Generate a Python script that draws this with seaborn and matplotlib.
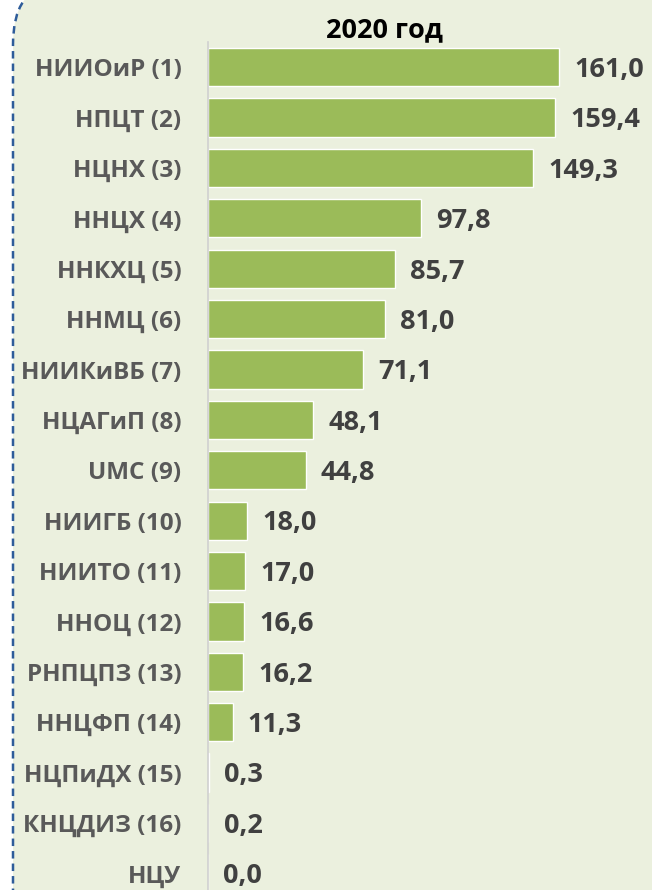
import pandas as pd
import matplotlib.pyplot as plt
import seaborn as sns
from matplotlib.patches import FancyBboxPatch

# data
centers = ["НИИОиР (1)", "НПЦТ (2)", "НЦНХ (3)", "ННЦХ (4)", "ННКХЦ (5)",
           "ННМЦ (6)", "НИИКиВБ (7)", "НЦАГиП (8)", "UMC (9)", "НИИГБ (10)",
           "НИИТО (11)", "ННОЦ (12)", "РНПЦПЗ (13)", "ННЦФП (14)",
           "НЦПиДХ (15)", "КНЦДИЗ (16)", "НЦУ"]
values = [161.0, 159.4, 149.3, 97.8, 85.7, 81.0, 71.1, 48.1, 44.8, 18.0,
          17.0, 16.6, 16.2, 11.3, 0.3, 0.2, 0.0]
title = "2020 год"

BG = "#EBF0DE"
BAR = "#9BBB59"

df = pd.DataFrame({"center": centers, "value": values})

sns.set_style("white")
plt.rcParams['font.family'] = ['Open Sans', 'DejaVu Sans']

fig = plt.figure(figsize=(6.52, 8.9), dpi=100)
fig.patch.set_facecolor("white")

# rounded dashed frame (behind the axes)
frame = FancyBboxPatch((13 / 652, -0.2), 1.2, 1.215, transform=fig.transFigure,
                       boxstyle="round,pad=0,rounding_size=0.065",
                       facecolor=BG, edgecolor="#2E5C9A", linestyle=(0, (3, 2)),
                       linewidth=1.8, zorder=-5)
fig.patches.append(frame)

ax = fig.add_axes([208 / 652, 0, 436 / 652, 848 / 890])
ax.set_zorder(2)
ax.set_facecolor("none")
sns.barplot(data=df, x="value", y="center", color=BAR, saturation=1,
            width=0.76, ax=ax)

ax.set_xlim(0, 200)
ax.set_ylim(16.33, -0.5)
ax.set_xlabel("")
ax.set_ylabel("")
ax.set_xticks([])
for s in ["top", "right", "bottom"]:
    ax.spines[s].set_visible(False)
ax.spines["left"].set_color("#D0D0D0")
ax.spines["left"].set_linewidth(1.2)
ax.tick_params(axis="y", length=0, pad=19, labelsize=17.5, labelcolor="#595959")
for lab in ax.get_yticklabels():
    lab.set_fontweight("bold")

for i, v in enumerate(values):
    ax.annotate(f"{v:.1f}".replace(".", ","), (v, i), xytext=(11, -2),
                textcoords="offset points", va="center", ha="left",
                fontsize=19.5, fontweight="bold", color="#404040")

fig.text(384 / 652, 1 - 30 / 890, title, ha="center", va="center",
         fontsize=19.5, fontweight="bold", color="black", zorder=3)

fig.savefig("out.png", dpi=100)
